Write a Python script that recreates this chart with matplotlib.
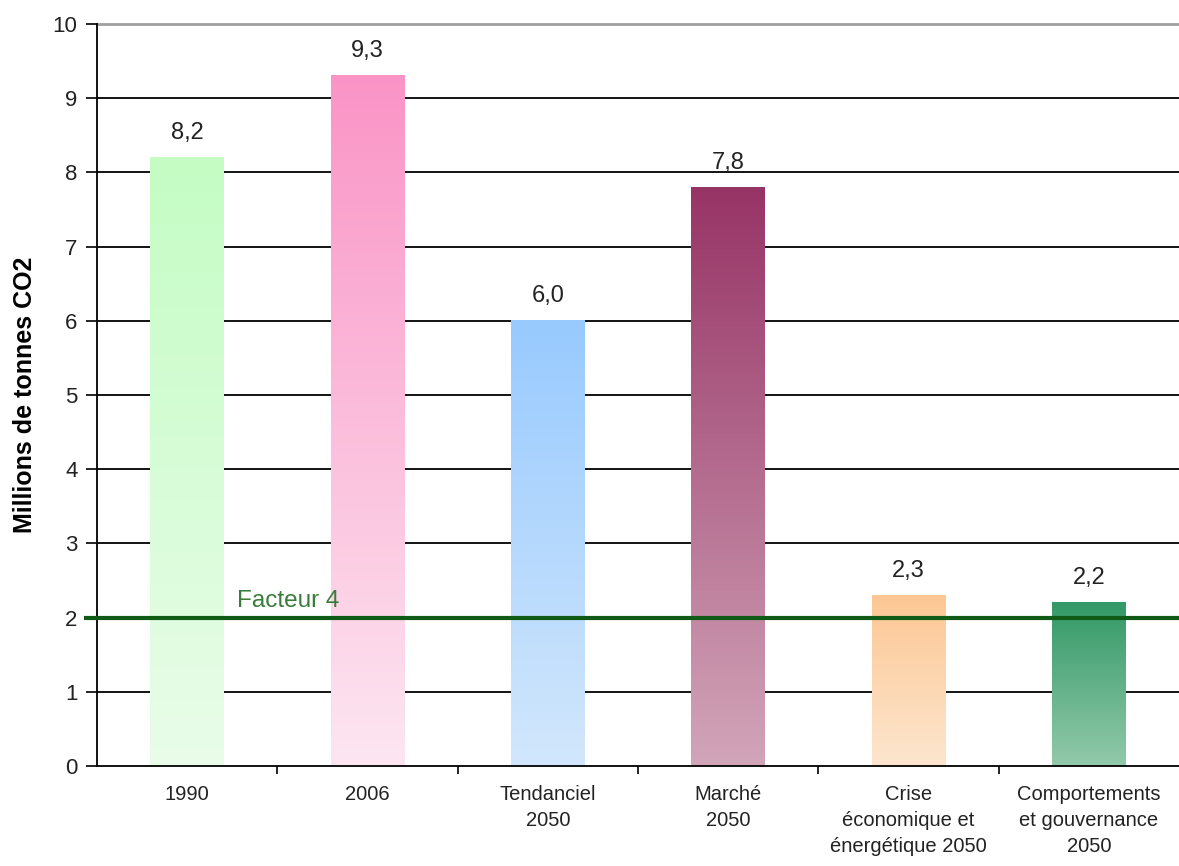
import numpy as np
import matplotlib
matplotlib.use("Agg")
import matplotlib.pyplot as plt
from matplotlib.colors import to_rgb

plt.rcParams['font.family'] = ['Liberation Sans', 'DejaVu Sans']

categories = ["1990", "2006", "Tendanciel\n2050", "Marché\n2050",
              "Crise\néconomique et\nénergétique 2050",
              "Comportements\net gouvernance\n2050"]
values = [8.2, 9.3, 6.0, 7.8, 2.3, 2.2]
value_labels = ["8,2", "9,3", "6,0", "7,8", "2,3", "2,2"]
top_colors = ["#c4fcc4", "#fa94c6", "#98caff", "#973466", "#fcc794", "#339966"]
bottom_colors = ["#e9fde9", "#fde6f1", "#d2e7fc", "#d2a5b9", "#fde6ce", "#92c9aa"]
facteur_level = 2.0
facteur_label = "Facteur 4"

fig = plt.figure(figsize=(11.79, 8.66), dpi=100)
ax = fig.add_axes([0.0823, 0.1155, 0.9177, 0.8568])

n = len(values)

# horizontal grid behind the bars
for y in range(1, 10):
    ax.axhline(y, color="black", lw=1.3, zorder=1)
ax.axhline(10, color="#a0a0a0", lw=2.0, zorder=1, clip_on=False)

bar_w = 0.41
grad = np.linspace(0, 1, 256)[:, None]
for i, (v, ct, cb) in enumerate(zip(values, top_colors, bottom_colors)):
    t = np.array(to_rgb(ct))
    b = np.array(to_rgb(cb))
    img = (t[None, None, :] * (1 - grad[..., None]) + b[None, None, :] * grad[..., None])
    x0 = i + 0.5 - bar_w / 2
    ax.imshow(img, extent=[x0, x0 + bar_w, 0, v], origin="upper",
              aspect="auto", zorder=2, interpolation="bilinear")
    ax.text(i + 0.5, v + 0.25, value_labels[i], ha="center", va="baseline",
            fontsize=17, color="#222222", zorder=4)

ax.set_xlim(0, n)
ax.set_ylim(0, 10)

# reduction target line
ax.plot([-0.07, n], [facteur_level, facteur_level], color="#0f5a14", lw=3,
        zorder=3, clip_on=False, solid_capstyle="butt")
ax.text(0.776, facteur_level + 0.14, facteur_label, color="#3a7d3a",
        fontsize=17.5, ha="left", va="baseline", zorder=4)

ax.set_yticks(range(0, 11))
ax.set_yticklabels([str(k) for k in range(0, 11)], fontsize=16, color="#222222")
ax.tick_params(axis="y", length=8, width=1.2, direction="out", pad=6, color="black")

ax.set_xticks(np.arange(1, n))
ax.set_xticklabels([])
ax.tick_params(axis="x", length=6, width=1.2, direction="out", color="black")
for i, lab in enumerate(categories):
    ax.text(i + 0.5, -0.26, lab, ha="center", va="top", fontsize=14.5,
            color="#222222", linespacing=1.46)

for s in ["top", "right"]:
    ax.spines[s].set_visible(False)
ax.spines["left"].set_linewidth(1.3)
ax.spines["bottom"].set_linewidth(1.3)

ax.set_ylabel("Millions de tonnes CO2", fontsize=18, fontweight="bold", labelpad=11)

fig.savefig("out.png", dpi=100, facecolor="white")
